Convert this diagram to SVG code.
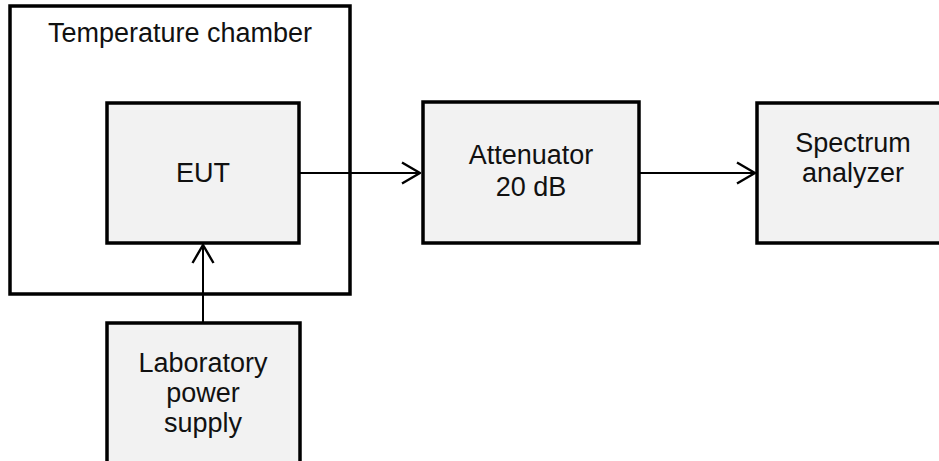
<svg xmlns="http://www.w3.org/2000/svg" width="939" height="461" viewBox="0 0 939 461">
  <style>
    .box { fill: #f2f2f2; stroke: #000; stroke-width: 3.5; }
    .frame { fill: none; stroke: #000; stroke-width: 3.5; }
    .label { font-family: "Liberation Sans", Arial, sans-serif; font-size: 27px; fill: #111; text-anchor: middle; }
    .wire { fill: none; stroke: #000; stroke-width: 2; }
  </style>
  <defs>
    <marker id="arrow" viewBox="0 0 20 24" refX="19" refY="12" markerWidth="20" markerHeight="24" markerUnits="userSpaceOnUse" orient="auto">
      <path d="M1,1.5 L19,12 L1,22.5" fill="none" stroke="#000" stroke-width="2.4"/>
    </marker>
  </defs>

  <rect width="939" height="461" fill="#fff"/>

  <g id="chamber">
    <rect class="frame" x="10" y="6" width="340" height="288"/>
    <text class="label" x="180" y="42">Temperature chamber</text>
  </g>

  <g id="eut">
    <rect class="box" x="107" y="103" width="192" height="140"/>
    <text class="label" x="203" y="182">EUT</text>
  </g>

  <g id="attenuator">
    <rect class="box" x="423" y="102" width="216" height="141"/>
    <text class="label" x="531" y="164">Attenuator</text>
    <text class="label" x="531" y="196">20 dB</text>
  </g>

  <g id="spectrum-analyzer">
    <rect class="box" x="757" y="103" width="190" height="140"/>
    <text class="label" x="853" y="152">Spectrum</text>
    <text class="label" x="853" y="182">analyzer</text>
  </g>

  <g id="power-supply">
    <rect class="box" x="107" y="323" width="193" height="150"/>
    <text class="label" x="203" y="372">Laboratory</text>
    <text class="label" x="203" y="402">power</text>
    <text class="label" x="203" y="432">supply</text>
  </g>

  <g id="connectors">
    <line class="wire" x1="300" y1="173" x2="420" y2="173" marker-end="url(#arrow)"/>
    <line class="wire" x1="640" y1="173" x2="755" y2="173" marker-end="url(#arrow)"/>
    <line class="wire" x1="203" y1="322" x2="203" y2="245" marker-end="url(#arrow)"/>
  </g>
</svg>
